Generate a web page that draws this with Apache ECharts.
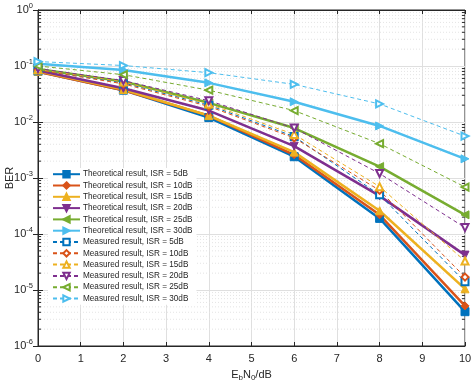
<!DOCTYPE html>
<html><head><meta charset="utf-8">
<script src="https://cdn.jsdelivr.net/npm/echarts@6/dist/echarts.min.js"></script>
<style>html,body{margin:0;padding:0;background:#fff}#c{width:474px;height:382px}</style>
</head><body><div id="c"></div>
<script>
const ebn0 = [0, 2, 4, 6, 8, 10];
const xTicks = [0,1,2,3,4,5,6,7,8,9,10];
const yTicks = [1e-6,1e-5,1e-4,1e-3,1e-2,1e-1,1];

const theo5  = [0.080, 0.037, 0.012, 0.0024, 0.00019, 4.1e-6];
const theo10 = [0.079, 0.037, 0.013, 0.0026, 0.00022, 5.2e-6];
const theo15 = [0.081, 0.038, 0.013, 0.0029, 0.00026, 1.05e-5];
const theo20 = [0.083, 0.040, 0.016, 0.0037, 0.00048, 4.2e-5];
const theo25 = [0.088, 0.053, 0.022, 0.0078, 0.0016, 2.2e-4];
const theo30 = [0.110, 0.085, 0.050, 0.023, 0.0085, 2.2e-3];

const meas5  = [0.085, 0.050, 0.020, 0.0055, 0.00050, 1.4e-5];
const meas10 = [0.085, 0.048, 0.019, 0.0052, 0.00060, 1.7e-5];
const meas15 = [0.087, 0.052, 0.021, 0.0060, 0.00070, 3.3e-5];
const meas20 = [0.090, 0.055, 0.024, 0.0078, 0.0012, 1.3e-4];
const meas25 = [0.100, 0.070, 0.037, 0.016, 0.0041, 6.9e-4];
const meas30 = [0.120, 0.102, 0.076, 0.047, 0.021, 5.6e-3];

const isr = [5, 10, 15, 20, 25, 30];
const colors = ['#0072BD','#D95319','#EDB120','#7E2F8E','#77AC30','#4DBEEE'];
const symbols = ['rect','diamond','triangle','triangle','triangle','triangle'];
const rots = [0, 0, 0, 180, 90, -90];
const theo = [theo5, theo10, theo15, theo20, theo25, theo30];
const meas = [meas5, meas10, meas15, meas20, meas25, meas30];

// minor grid positions (2..9 per decade)
const minorVals = [];
for (let e = -6; e < 0; e++) for (let k = 2; k <= 9; k++) minorVals.push(k * Math.pow(10, e));

const font = 'Liberation Sans, Arial, Helvetica, sans-serif';
const dark = '#262626';
const series = [];
const legendNames = [];

series.push({
  type: 'custom', name: 'minor', silent: true, z: 0,
  data: minorVals.map(v => [0, v]),
  renderItem: function (params, api) {
    const v = api.value(1);
    const p0 = api.coord([0, v]);
    const p1 = api.coord([10, v]);
    return { type: 'group', children: [
      { type: 'line', shape: {x1: p0[0], y1: p0[1], x2: p1[0], y2: p1[1]},
        style: {stroke: '#e4e4e4', lineWidth: 1, lineDash: [1, 2]} },
      { type: 'line', shape: {x1: p0[0], y1: p0[1], x2: p0[0] + 3, y2: p0[1]},
        style: {stroke: dark, lineWidth: 1} },
      { type: 'line', shape: {x1: p1[0], y1: p1[1], x2: p1[0] - 3, y2: p1[1]},
        style: {stroke: dark, lineWidth: 1} }
    ]};
  }
});

for (let i = 0; i < 6; i++) {
  const n = 'Theoretical result, ISR = ' + isr[i] + 'dB';
  legendNames.push(n);
  series.push({
    name: n, type: 'line', z: 2,
    data: ebn0.map((x, j) => [x, theo[i][j]]),
    symbol: symbols[i], symbolRotate: rots[i], symbolSize: 8,
    lineStyle: {color: colors[i], width: 2.5},
    itemStyle: {color: colors[i], borderColor: colors[i], borderWidth: 1},
    emphasis: {disabled: true}, animation: false
  });
}
for (let i = 0; i < 6; i++) {
  const n = 'Measured result, ISR = ' + isr[i] + 'dB';
  legendNames.push(n);
  series.push({
    name: n, type: 'line', z: 3,
    data: ebn0.map((x, j) => [x, meas[i][j]]),
    symbol: 'empty' + symbols[i].charAt(0).toUpperCase() + symbols[i].slice(1),
    symbolRotate: rots[i], symbolSize: 7,
    lineStyle: {color: colors[i], width: 1, type: [4, 3]},
    itemStyle: {color: colors[i], borderColor: colors[i], borderWidth: 1},
    emphasis: {disabled: true}, animation: false
  });
}

const chart = echarts.init(document.getElementById('c'), null, {renderer: 'canvas'});
chart.setOption({
  animation: false,
  backgroundColor: '#fff',
  textStyle: {fontFamily: font},
  grid: {left: 38, right: 9, top: 10, bottom: 36, show: true, borderColor: dark, borderWidth: 1,
         containLabel: false, outerBoundsMode: 'none'},
  legend: {
    data: legendNames, orient: 'vertical', left: 48, top: 168,
    itemWidth: 27, itemHeight: 8, itemGap: 2.9,
    backgroundColor: '#fff', borderWidth: 0, padding: [2, 4, 2, 4],
    textStyle: {fontSize: 8.2, color: dark, fontFamily: font, padding: [0, 0, 0, -2]},
    selectedMode: false
  },
  xAxis: [{
    type: 'value', min: 0, max: 10, interval: 1,
    name: '{a|E}{s|b}{a|N}{s|0}{a|/dB}', nameLocation: 'middle', nameGap: 21, nameMoveOverlap: false,
    nameTextStyle: {rich: {
      a: {fontSize: 11, color: dark, fontFamily: font},
      s: {fontSize: 8, color: dark, fontFamily: font, padding: [7, 0, 0, 0]}
    }},
    axisLine: {show: true, lineStyle: {color: dark}},
    axisTick: {inside: true, length: 4, lineStyle: {color: dark}},
    axisLabel: {fontSize: 11, color: dark, margin: 7, formatter: v => xTicks.indexOf(v) >= 0 ? String(v) : ''},
    splitLine: {show: true, lineStyle: {color: '#dfdfdf', width: 1}}
  }, {
    type: 'value', min: 0, max: 10, interval: 1, position: 'top',
    axisLine: {show: true, lineStyle: {color: dark}},
    axisTick: {inside: true, length: 4, lineStyle: {color: dark}},
    axisLabel: {show: false}, splitLine: {show: false}
  }],
  yAxis: [{
    type: 'log', logBase: 10, min: yTicks[0], max: yTicks[yTicks.length - 1],
    name: 'BER', nameLocation: 'middle', nameGap: 23, nameMoveOverlap: false,
    nameTextStyle: {fontSize: 11, color: dark, fontFamily: font},
    axisLine: {show: true, lineStyle: {color: dark}},
    axisTick: {inside: true, length: 5, lineStyle: {color: dark}},
    axisLabel: {
      margin: 5, color: dark,
      formatter: v => '{b|10}{s|' + Math.round(Math.log10(v)) + '}',
      rich: {
        b: {fontSize: 11, color: dark, fontFamily: font},
        s: {fontSize: 7.5, color: dark, fontFamily: font, padding: [0, 0, 8, 0]}
      }
    },
    splitLine: {show: true, lineStyle: {color: '#dfdfdf', width: 1}}
  }, {
    type: 'log', logBase: 10, min: yTicks[0], max: yTicks[yTicks.length - 1], position: 'right',
    axisLine: {show: true, lineStyle: {color: dark}},
    axisTick: {inside: true, length: 5, lineStyle: {color: dark}},
    axisLabel: {show: false}, splitLine: {show: false}
  }],
  series: series
});
</script></body></html>
